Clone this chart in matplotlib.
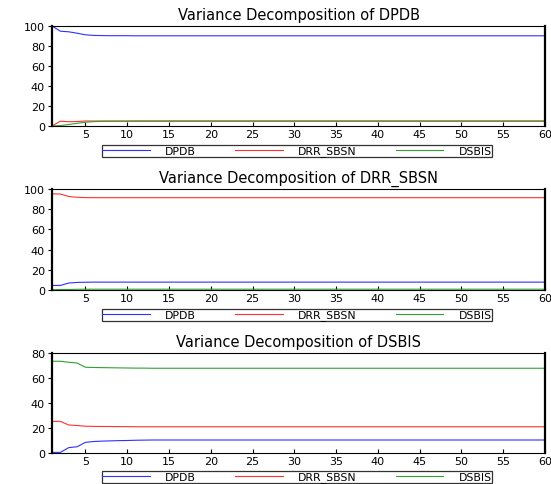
import matplotlib.pyplot as plt
import numpy as np

plt.rcParams['font.family'] = ['DejaVu Sans']

# periods 1..60
periods = np.arange(1, 61)
names = ["DPDB", "DRR_SBSN", "DSBIS"]

# Variance decomposition of DPDB
dpdb_1 = [100.0, 94.8, 94.2, 92.8, 91.2, 90.6, 90.4, 90.3, 90.3, 90.3] + [90.2] * 50
drr_1 = [0.0, 4.8, 4.3, 4.5, 5.0, 5.0, 5.0, 5.0, 5.0, 5.0] + [5.1] * 50
dsbis_1 = [0.0, 0.4, 1.5, 2.7, 3.8, 4.4, 4.6, 4.7, 4.7, 4.7] + [4.7] * 50

# Variance decomposition of DRR_SBSN
dpdb_2 = [4.5, 4.5, 6.9, 7.5, 7.7, 7.8, 7.8, 7.8, 7.8, 7.8] + [7.8] * 50
drr_2 = [95.2, 95.0, 92.6, 91.8, 91.5, 91.4, 91.4, 91.4, 91.4, 91.4] + [91.4] * 50
dsbis_2 = [0.3, 0.5, 0.5, 0.7, 0.8, 0.8, 0.8, 0.8, 0.8, 0.8] + [0.8] * 50

# Variance decomposition of DSBIS
dpdb_3 = [0.5, 0.5, 4.3, 5.0, 8.5, 9.2, 9.5, 9.7, 9.9, 10.0, 10.2, 10.3] + [10.4] * 48
drr_3 = [25.3, 25.3, 22.4, 22.0, 21.4, 21.3, 21.2, 21.2, 21.1, 21.1, 21.0, 21.0] + [21.0] * 48
dsbis_3 = [73.4, 73.4, 72.6, 72.0, 68.6, 68.4, 68.3, 68.2, 68.1, 68.0, 67.9, 67.9] + [67.8] * 48

panels = [
    ("Variance Decomposition of DPDB", [dpdb_1, drr_1, dsbis_1], 100, [0, 20, 40, 60, 80, 100]),
    ("Variance Decomposition of DRR_SBSN", [dpdb_2, drr_2, dsbis_2], 100, [0, 20, 40, 60, 80, 100]),
    ("Variance Decomposition of DSBIS", [dpdb_3, drr_3, dsbis_3], 80, [0, 20, 40, 60, 80]),
]
colors = ["#3030ff", "#ff3030", "#30a030"]

W, H = 551, 485
fig = plt.figure(figsize=(W / 100, H / 100), dpi=100)

# pixel boxes (top, bottom) of each plot area and legend centre row
boxes = [(27, 127, 152), (190, 291, 316), (354, 454, 478)]
left, right = 52, 545

for (title, series, ymax, yticks), (top, bot, leg_y) in zip(panels, boxes):
    ax = fig.add_axes([left / W, 1 - bot / H, (right - left) / W, (bot - top) / H])
    for vals, c, n in zip(series, colors, names):
        ax.plot(periods, vals, color=c, lw=0.8, label=n)
    ax.set_xlim(1, 60)
    ax.set_ylim(0, ymax)
    ax.set_xticks(range(5, 61, 5))
    ax.set_yticks(yticks)
    ax.tick_params(axis='x', direction='in', length=3, labelsize=8, pad=2)
    ax.tick_params(axis='y', direction='out', length=3, labelsize=8, pad=2)
    for s in ("left", "right"):
        ax.spines[s].set_linewidth(1.6)
    for s in ("top", "bottom"):
        ax.spines[s].set_linewidth(0.8)
    ax.set_title(title, fontsize=10.5, pad=5)
    leg = ax.legend(loc='center', bbox_to_anchor=(297 / W, 1 - leg_y / H),
                    bbox_transform=fig.transFigure, ncol=3, fontsize=7.8,
                    frameon=True, fancybox=False, edgecolor='black',
                    handlelength=4.4, columnspacing=3.6, handletextpad=1.4,
                    borderpad=0.05, borderaxespad=0)
    leg.get_frame().set_linewidth(0.9)

fig.savefig("out.png", dpi=100)
